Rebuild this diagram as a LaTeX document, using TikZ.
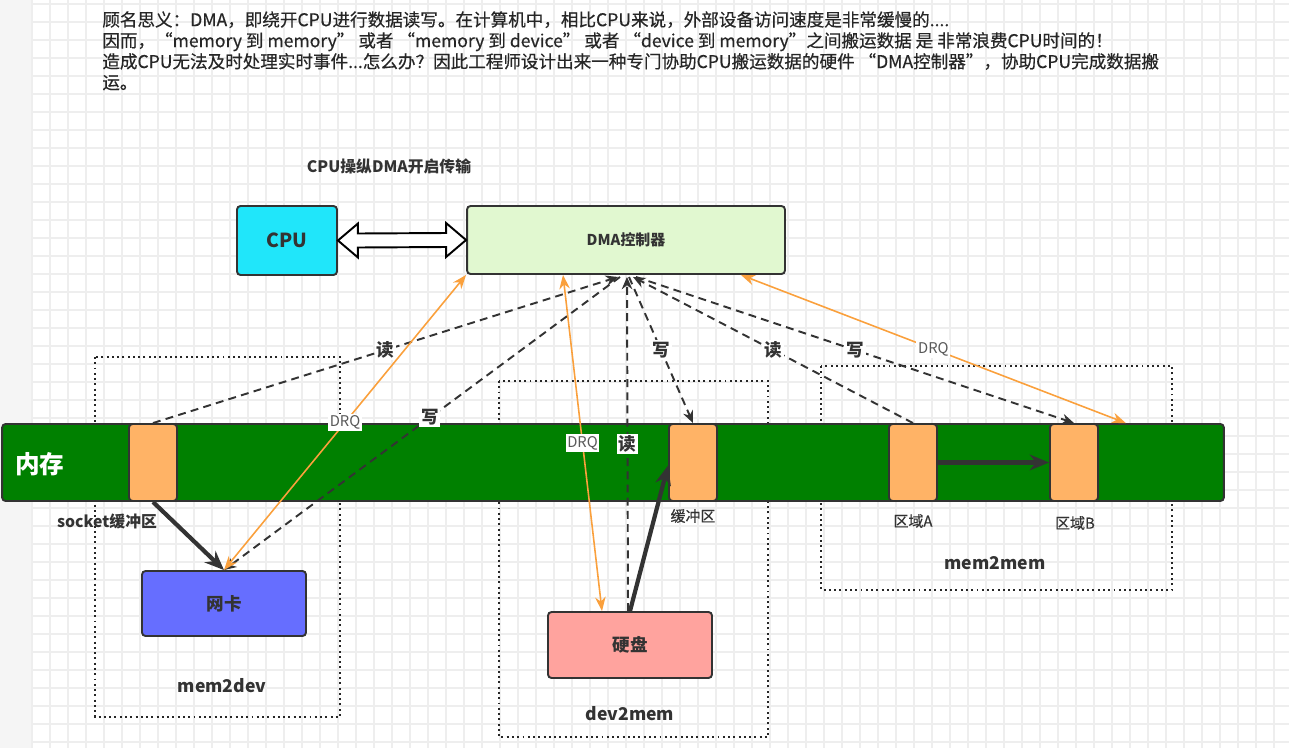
\documentclass[tikz,border=0pt]{standalone}
\usepackage{fontspec}
\setmainfont{Noto Sans CJK SC}
\newfontfamily\introfont{Noto Sans CJK SC}[FakeBold=0.5]
\usetikzlibrary{shapes,arrows,arrows.meta,positioning,calc}

\definecolor{cpucyan}{RGB}{32,230,250}
\definecolor{dmagreen}{RGB}{225,248,208}
\definecolor{memgreen}{RGB}{0,128,0}
\definecolor{bufor}{RGB}{255,179,102}
\definecolor{nicblue}{RGB}{102,110,255}
\definecolor{diskred}{RGB}{255,163,158}
\definecolor{drqor}{RGB}{250,160,60}
\definecolor{linegray}{RGB}{51,51,51}
\definecolor{gridgray}{RGB}{238,238,238}

\begin{document}
\begin{tikzpicture}[
    x=0.02cm, y=-0.02cm,
    box/.style={rectangle, draw=linegray, line width=1.1pt, rounded corners=2pt, align=center, text=linegray, font=\bfseries\fontsize{10}{12}\selectfont},
    buffer/.style={rectangle, draw=linegray, line width=1.1pt, rounded corners=2pt, fill=bufor, minimum width=0.96cm, minimum height=1.54cm},
    group/.style={draw=black!85, line width=1.1pt, dash pattern=on 1.1pt off 1.9pt},
    rwline/.style={draw=linegray, line width=1.1pt, dash pattern=on 4.5pt off 3pt, -{Stealth[length=7pt,width=6pt]}},
    drqline/.style={draw=drqor, line width=0.9pt, {Stealth[length=8pt,width=6pt]}-{Stealth[length=8pt,width=6pt]}},
    moveline/.style={draw=linegray, line width=2.4pt, -{Stealth[length=11pt,width=9pt]}},
    rwlabel/.style={fill=white, inner sep=1pt, text=linegray, font=\bfseries\fontsize{10}{12}\selectfont},
    drqlabel/.style={fill=white, inner sep=1pt, text=black!65, font=\fontsize{8.4}{10}\selectfont},
    tag/.style={text=linegray, font=\introfont\fontsize{8.5}{10}\selectfont},
    grouptag/.style={text=linegray, font=\bfseries\fontsize{10}{12}\selectfont}
]
    \useasboundingbox (0,0) rectangle (1289,748);
    % background grid
    \fill[gray!8] (0,0) rectangle (32,748);
    \foreach \gx in {32,50,...,1289}
        \draw[gridgray, line width=0.6pt] (\gx,0) -- (\gx,748);
    \foreach \gy in {4,22,...,748}
        \draw[gridgray, line width=0.6pt] (32,\gy) -- (1289,\gy);

    \node[anchor=north west, inner sep=0pt, align=left, text=black!85, font=\introfont\fontsize{10}{11.9}\selectfont] (intro) at (102,11)
        {顾名思义：DMA，即绕开CPU进行数据读写。在计算机中，相比CPU来说，外部设备访问速度是非常缓慢的....\\
         因而，“memory 到 memory” 或者 “memory 到 device” 或者 “device 到 memory”之间搬运数据 是 非常浪费CPU时间的！\\
         造成CPU无法及时处理实时事件...怎么办？因此工程师设计出来一种专门协助CPU搬运数据的硬件 “DMA控制器”，协助CPU完成数据搬\\
         运。};
    \node[text=linegray, font=\bfseries\fontsize{9}{11}\selectfont] (title) at (389,166) {CPU操纵DMA开启传输};

    % groups
    \draw[group] (95,357) rectangle (340,717);
    \draw[group] (499,381) rectangle (768,737);
    \draw[group] (821,366) rectangle (1172,590);

    % memory and buffers
    \node[rectangle, draw=linegray, line width=1.1pt, rounded corners=2pt, fill=memgreen, minimum width=24.44cm, minimum height=1.54cm] (mem) at (613,462.5) {};
    \node[text=white, font=\bfseries\fontsize{14}{16}\selectfont] (memlabel) at (40,464) {内存};
    \node[buffer] (sockbuf) at (153,462.5) {};
    \node[buffer] (diskbuf) at (693,462.5) {};
    \node[buffer] (areaA) at (913,462.5) {};
    \node[buffer] (areaB) at (1074,462.5) {};
    \node[tag, font=\bfseries\fontsize{9}{11}\selectfont] at (107,521) {socket缓冲区};
    \node[tag] at (693,516) {缓冲区};
    \node[tag] at (913,521) {区域A};
    \node[tag] at (1075,523) {区域B};

    % devices
    \node[box, fill=cpucyan, minimum width=2cm, minimum height=1.38cm, font=\bfseries\fontsize{11}{13}\selectfont] (cpu) at (287,240.5) {CPU};
    \node[box, fill=dmagreen, minimum width=6.36cm, minimum height=1.36cm, font=\bfseries\fontsize{8.5}{10}\selectfont] (dma) at (626,240) {DMA控制器};
    \node[box, fill=nicblue, minimum width=3.28cm, minimum height=1.3cm] (nic) at (224,603.5) {网卡};
    \node[box, fill=diskred, minimum width=3.28cm, minimum height=1.32cm] (disk) at (630,645) {硬盘};
    \node[grouptag] at (222,686) {mem2dev};
    \node[grouptag] at (630,714) {dev2mem};
    \node[grouptag] at (995,563) {mem2mem};

    % cpu <-> dma
    \draw[fill=white, line width=1.1pt, line join=miter] (cpu.east) -- ++(20,-17) -- ++(0,10) -- ($(dma.west)+(-20,-7)$)
        -- ++(0,-10) -- (dma.west) -- ++(-20,17) -- ++(0,-10) -- ($(cpu.east)+(20,7)$) -- ++(0,10) -- cycle;

    % mem2dev
    \draw[rwline] (sockbuf.north) -- node[rwlabel] {读} ($(dma.south)+(-8,2)$);
    \draw[rwline] ($(dma.south)+(-6,2)$) -- node[rwlabel, pos=0.48] {写} (nic.north);
    \draw[drqline] (nic.north) -- node[drqlabel] {DRQ} (dma.south west);
    \draw[moveline] (sockbuf.south) -- (nic.north);

    % dev2mem
    \draw[drqline] ($(disk.north)+(-28,0)$) -- node[drqlabel] {DRQ} ($(dma.south)+(-63,0)$);
    \draw[rwline] ($(disk.north)+(-2,0)$) -- node[rwlabel] {读} ($(dma.south)+(1,2)$);
    \draw[rwline] ($(dma.south)+(3,2)$) -- node[rwlabel] {写} (diskbuf.north);
    \draw[moveline] (disk.north) -- ($(diskbuf.west)+(0,3)$);

    % mem2mem
    \draw[rwline] (areaA.north) -- node[rwlabel] {读} ($(dma.south)+(7,2)$);
    \draw[rwline] ($(dma.south)+(10,2)$) -- node[rwlabel] {写} (areaB.north);
    \draw[drqline] ($(mem.north east)+(-99,0)$) -- node[drqlabel] {DRQ} ($(dma.south east)+(-45,0)$);
    \draw[moveline] (areaA.east) -- (areaB.west);
\end{tikzpicture}
\end{document}
